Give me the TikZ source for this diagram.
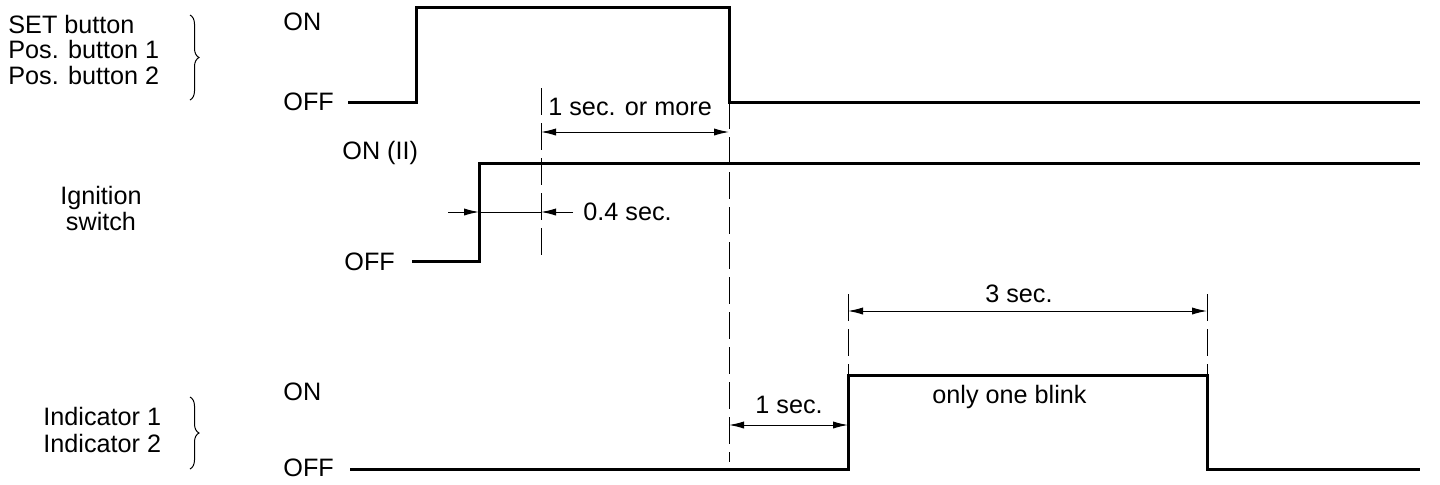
\documentclass[tikz,border=0pt]{standalone}
\usepackage{fontspec}
\setmainfont{Liberation Sans}
\usetikzlibrary{arrows.meta,decorations.pathreplacing}
\begin{document}
\begin{tikzpicture}[x=0.5pt,y=-0.5pt,
  sig/.style={line width=1.5pt,line join=miter},
  dim/.style={line width=0.5pt,{Latex[length=7.5pt,width=3.6pt]}-{Latex[length=7.5pt,width=3.6pt]}},
  tip/.style={line width=0.5pt,-{Latex[length=7.5pt,width=3.6pt]}},
  guide/.style={line width=0.5pt,dash pattern=on 13.5pt off 4pt},
  lbl/.style={font=\fontsize{12.6}{15}\selectfont,inner sep=0pt,anchor=base west},
  brc/.style={decorate,decoration={brace,amplitude=4.5pt},line width=0.5pt}]
\useasboundingbox (0,0) rectangle (1440,484);

% ---------- left labels ----------
\node[lbl] (set)  at (8,33) {SET button};
\node[lbl] (pos1) at (8,58) {Pos. button 1};
\node[lbl] (pos2) at (8,84) {Pos. button 2};
\node[lbl,align=center,anchor=base] (ign) at (101,230) {Ignition\\[-2.4pt]switch};
\node[lbl] (ind1) at (43,425) {Indicator 1};
\node[lbl] (ind2) at (43,452) {Indicator 2};

\coordinate (b1t) at (190,15);
\coordinate (b1b) at (190,100);
\coordinate (b2t) at (190,397);
\coordinate (b2b) at (190,469);
\draw[brc] (b1t) -- (b1b);
\draw[brc] (b2t) -- (b2b);

% ---------- level labels ----------
\node[lbl] (on1)  at (283,30)  {ON};
\node[lbl] (off1) at (283,110) {OFF};
\node[lbl] (on2)  at (342,159) {ON (II)};
\node[lbl] (off2) at (344,270) {OFF};
\node[lbl] (on3)  at (283,400) {ON};
\node[lbl] (off3) at (283,476) {OFF};

% ---------- signals ----------
\coordinate (a0) at (348,102);
\coordinate (a1) at (416,102);
\coordinate (a2) at (416,7);
\coordinate (a3) at (729,7);
\coordinate (a4) at (729,102);
\coordinate (a5) at (1420,102);
\draw[sig] (a0) -- (a1) -- (a2) -- (a3) -- (a4) -- (a5);

\coordinate (g0) at (412,261);
\coordinate (g1) at (479,261);
\coordinate (g2) at (479,163);
\coordinate (g3) at (1420,163);
\draw[sig] (g0) -- (g1) -- (g2) -- (g3);

\coordinate (i0) at (350,469);
\coordinate (i1) at (848,469);
\coordinate (i2) at (848,375);
\coordinate (i3) at (1207,375);
\coordinate (i4) at (1207,469);
\coordinate (i5) at (1420,469);
\draw[sig] (i0) -- (i1) -- (i2) -- (i3) -- (i4) -- (i5);

% ---------- guide lines ----------
\coordinate (d1t) at (541,88);  \coordinate (d1b) at (541,256);
\coordinate (d2t) at (729,102); \coordinate (d2b) at (729,462);
\coordinate (d3t) at (848,294); \coordinate (d3b) at (848,375);
\coordinate (d4t) at (1207,294);\coordinate (d4b) at (1207,375);
\draw[guide] (d1t) -- (d1b);
\draw[guide] (d2t) -- (d2b);
\draw[guide] (d3t) -- (d3b);
\draw[guide] (d4t) -- (d4b);

% ---------- dimensions ----------
\coordinate (m1a) at (541,132); \coordinate (m1b) at (729,132);
\draw[dim] (m1a) -- (m1b);
\node[lbl] (t1) at (548,115) {1 sec. or more};

\coordinate (m2s) at (448,212); \coordinate (m2a) at (479,212);
\coordinate (m2b) at (541,212); \coordinate (m2e) at (573,212);
\draw[tip] (m2s) -- (m2a);
\draw[line width=0.5pt] (m2a) -- (m2b);
\draw[tip] (m2e) -- (m2b);
\node[lbl] (t2) at (583,220) {0.4 sec.};

\coordinate (m3a) at (848,311); \coordinate (m3b) at (1207,311);
\draw[dim] (m3a) -- (m3b);
\node[lbl,anchor=base] (t3) at (1019,302) {3 sec.};

\coordinate (m4a) at (729,425); \coordinate (m4b) at (848,425);
\draw[dim] (m4a) -- (m4b);
\node[lbl] (t4) at (755,413) {1 sec.};

\node[lbl] (t5) at (932,403) {only one blink};
\end{tikzpicture}
\end{document}
